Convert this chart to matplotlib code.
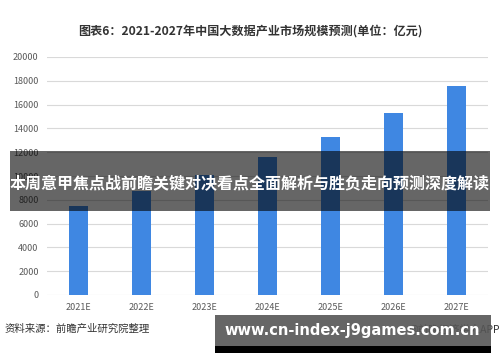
import matplotlib
matplotlib.use('Agg')
import matplotlib.pyplot as plt
from matplotlib.patches import Rectangle

plt.rcParams['font.family'] = ['Noto Sans CJK SC', 'DejaVu Sans']

years = ['2021E', '2022E', '2023E', '2024E', '2025E', '2026E', '2027E']
values = [7500, 8700, 10100, 11600, 13300, 15300, 17600]
yticks = [0, 2000, 4000, 6000, 8000, 10000, 12000, 14000, 16000, 18000, 20000]

title = '图表6：2021-2027年中国大数据产业市场规模预测(单位：亿元)'
source = '资料来源：前瞻产业研究院整理'
credit = '@前瞻经济学人APP'
banner = '本周意甲焦点战前瞻关键对决看点全面解析与胜负走向预测深度解读'
url = 'www.cn-index-j9games.com.cn'

W, H = 500, 362
fig = plt.figure(figsize=(W / 100, H / 100), dpi=100)
ax = fig.add_axes([47 / W, 67 / H, 441 / W, 238 / H])

x = list(range(len(years)))
ax.bar(x, values, width=0.3, color='#3f87e2', zorder=2)
ax.set_xlim(-0.5, len(years) - 0.5)
ax.set_ylim(0, 20000)
ax.set_yticks(yticks)
ax.set_xticks(x)
ax.set_xticklabels(years)
ax.tick_params(length=0, labelsize=6.5, colors='#595959', pad=6)
for s in ax.spines.values():
    s.set_visible(False)
ax.grid(axis='y', color='#d9d9d9', linewidth=0.8, zorder=0)
ax.set_axisbelow(True)

fig.text(0.5, 1 - 31 / H, title, ha='center', va='center', fontsize=8.7,
         fontweight='bold', color='#333333')
fig.text(5 / W, 1 - 329 / H, source, ha='left', va='center', fontsize=7.5,
         color='#333333')
fig.text(1.0, 1 - 329 / H, credit, ha='right', va='center', fontsize=7.5,
         color='#333333')

# overlay banners
fig.patches.append(Rectangle((10 / W, 1 - 211 / H), 480 / W, 60 / H,
                             transform=fig.transFigure, facecolor='black',
                             alpha=0.6, edgecolor='none', zorder=5))
fig.text(0.5, 1 - 184 / H, banner, ha='center', va='center', fontsize=11.5,
         fontweight='bold', color='white', zorder=6)

fig.patches.append(Rectangle((215 / W, 1 - 346 / H), 276 / W, 31 / H,
                             transform=fig.transFigure, facecolor='#555555',
                             alpha=0.9, edgecolor='none', zorder=5))
fig.patches.append(Rectangle((215 / W, 1 - 353 / H), 276 / W, 7 / H,
                             transform=fig.transFigure, facecolor='black',
                             edgecolor='none', zorder=5))
fig.text(352 / W, 1 - 331 / H, url, ha='center', va='center', fontsize=10.5,
         fontweight='bold', color='white', zorder=6, family='DejaVu Sans')

fig.savefig('out.png', dpi=100)
